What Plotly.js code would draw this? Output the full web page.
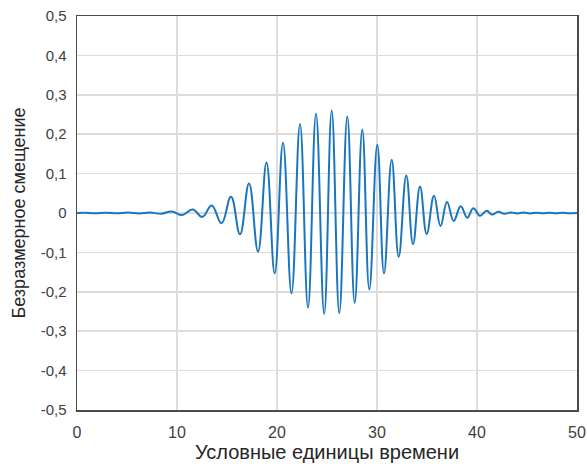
<!DOCTYPE html>
<html>
<head>
<meta charset="utf-8">
<script src="https://cdn.plot.ly/plotly-3.0.1.min.js"></script>
<style>
html,body{margin:0;padding:0;background:#fff;}
#chart{width:587px;height:464px;}
</style>
</head>
<body>
<div id="chart"></div>
<script>
// Extrema of the wave packet (time, displacement)
const timeValues = [
  0.0, 0.7, 1.8, 2.9, 4.0, 5.1, 6.2, 7.3, 8.4,
  9.47, 10.53, 11.57, 12.53, 13.47, 14.45, 15.4, 16.3, 17.2, 18.1,
  18.95, 19.77, 20.6, 21.45, 22.3, 23.1, 23.9, 24.72, 25.47, 26.23,
  27.03, 27.77, 28.53, 29.23, 30.03, 30.7, 31.47, 32.17, 32.93, 33.6,
  34.3, 34.97, 35.7, 36.35, 37.0, 37.67, 38.37, 39.03, 39.63, 40.3,
  40.97, 41.5, 42.13, 42.75, 43.4, 44.0, 44.65, 45.3, 45.95, 46.6,
  47.25, 47.9, 48.55, 49.2, 50.0
];
const displacementValues = [
  0, 0.0005, -0.0005, 0.0008, -0.0008, 0.001, -0.001, 0.0015, -0.002,
  0.004, -0.005, 0.009, -0.010, 0.019, -0.026, 0.041, -0.054, 0.075, -0.098,
  0.128, -0.153, 0.178, -0.204, 0.226, -0.240, 0.252, -0.256, 0.260, -0.254,
  0.245, -0.228, 0.212, -0.194, 0.173, -0.153, 0.135, -0.111, 0.095, -0.079,
  0.067, -0.053, 0.044, -0.033, 0.028, -0.020, 0.017, -0.012, 0.012, -0.007,
  0.006, -0.004, 0.003, -0.002, 0.0015, -0.001, 0.001, -0.001, 0.0008, -0.0008,
  0.0006, -0.0006, 0.0005, -0.0005, 0
];
const xTickValues = [0, 10, 20, 30, 40, 50];
const xTickLabels = ['0', '10', '20', '30', '40', '50'];
const yTickValues = [-0.5, -0.4, -0.3, -0.2, -0.1, 0, 0.1, 0.2, 0.3, 0.4, 0.5];
const yTickLabels = ['-0,5', '-0,4', '-0,3', '-0,2', '-0,1', '0', '0,1', '0,2', '0,3', '0,4', '0,5'];
const xTitle = 'Условные единицы времени';
const yTitle = 'Безразмерное смещение';

const trace = {
  x: timeValues,
  y: displacementValues,
  type: 'scatter',
  mode: 'lines',
  line: {color: '#1a75bf', width: 2, shape: 'spline', smoothing: 1.2},
  hoverinfo: 'skip'
};

const fontFamily = '"Liberation Sans", Arial, sans-serif';
const layout = {
  width: 587,
  height: 464,
  margin: {l: 77, r: 10, t: 16, b: 54},
  paper_bgcolor: '#ffffff',
  plot_bgcolor: '#ffffff',
  showlegend: false,
  font: {family: fontFamily, color: '#404040'},
  xaxis: {
    range: [0, 50],
    tickvals: xTickValues,
    ticktext: xTickLabels,
    tickfont: {size: 16, color: '#404040'},
    showgrid: true,
    gridcolor: '#dcdcdc',
    gridwidth: 1.5,
    zeroline: false,
    showline: true,
    linecolor: '#4a4a4a',
    linewidth: 1.5,
    mirror: true,
    ticks: '',
    ticklabelstandoff: 7,
    title: {text: xTitle, font: {size: 20, color: '#262626', family: fontFamily}, standoff: 2}
  },
  yaxis: {
    range: [-0.5, 0.5],
    tickvals: yTickValues,
    ticktext: yTickLabels,
    tickfont: {size: 15, color: '#404040'},
    showgrid: true,
    gridcolor: '#dcdcdc',
    gridwidth: 1.5,
    zeroline: false,
    showline: true,
    linecolor: '#4a4a4a',
    linewidth: 1.5,
    mirror: true,
    ticks: '',
    ticklabelstandoff: 6,
    title: {text: yTitle, font: {size: 18, color: '#262626', family: fontFamily}, standoff: 10}
  }
};

Plotly.newPlot('chart', [trace], layout, {staticPlot: true, displayModeBar: false});
</script>
</body>
</html>
